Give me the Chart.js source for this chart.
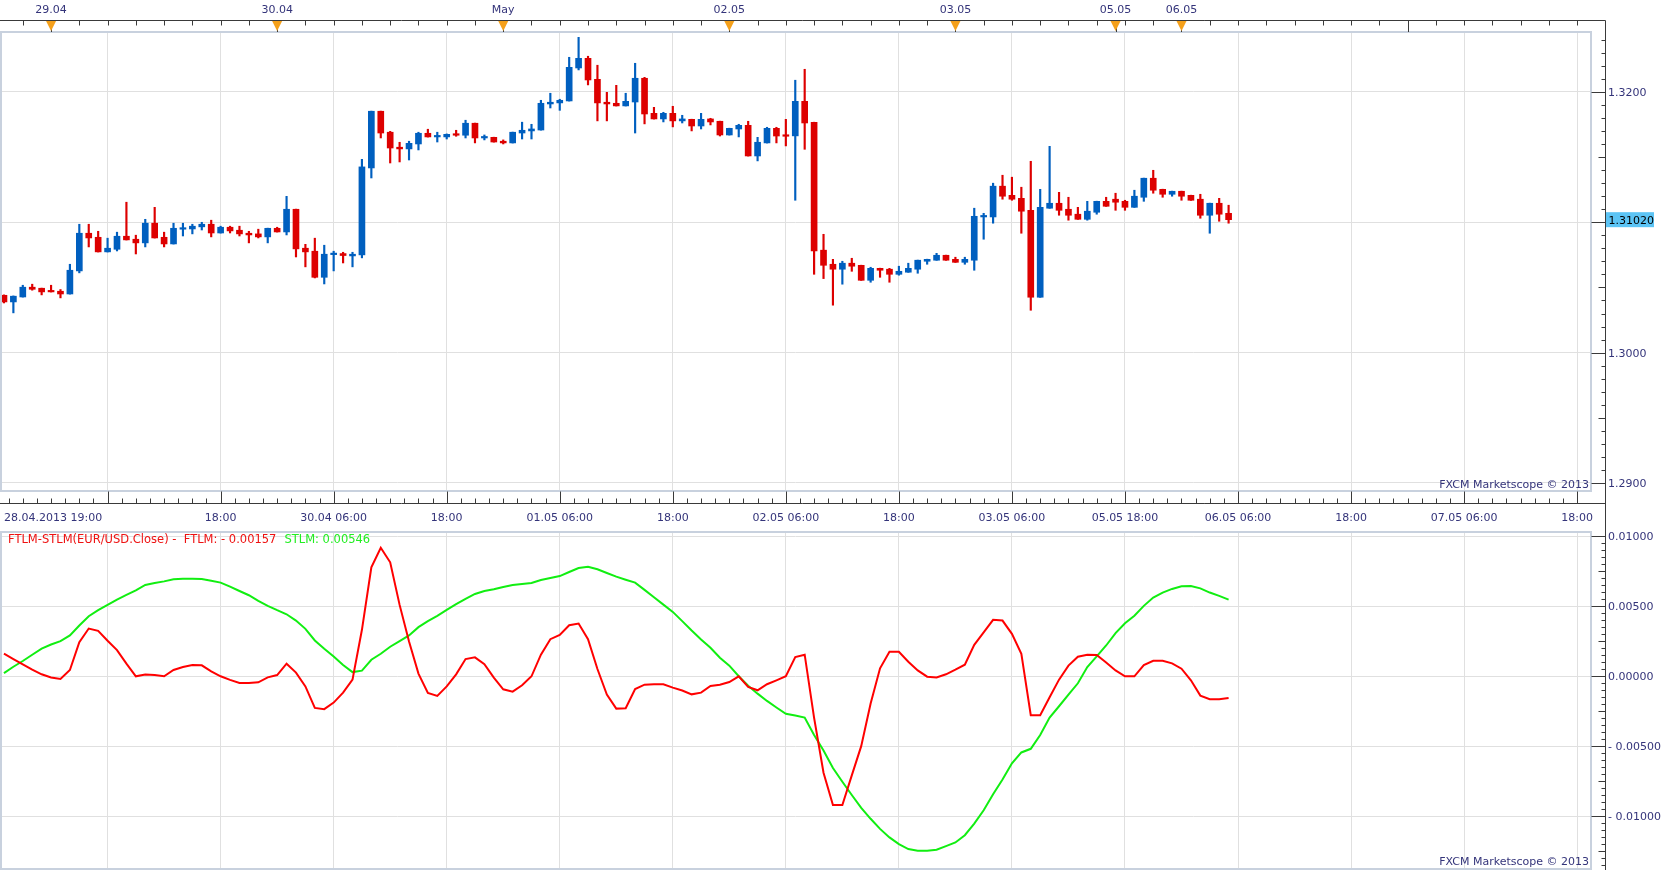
<!DOCTYPE html>
<html>
<head>
<meta charset="utf-8">
<script src="https://cdn.jsdelivr.net/npm/chart.js@4.4.0/dist/chart.umd.min.js"></script>
<style>
  html, body { margin: 0; padding: 0; background: #fff; }
  #wrap { position: relative; width: 1663px; height: 870px; overflow: hidden; }
  canvas { position: absolute; left: 0; }
  #price { top: 0; }
  #osc { top: 530px; }
</style>
</head>
<body>
<div id="wrap">
  <canvas id="price" width="1663" height="530"></canvas>
  <canvas id="osc" width="1663" height="340"></canvas>
</div>
<script>
// EUR/USD hourly candles, 28.04.2013 19:00 .. 06.05.2013 05:00 (weekend removed)
const opens = [
  1.30440, 1.30389, 1.30427, 1.30502, 1.30494, 1.30471, 1.30471, 1.30450, 1.30627, 1.30916,
  1.30885, 1.30773, 1.30793, 1.30893, 1.30870, 1.30842, 1.30993, 1.30885, 1.30834, 1.30947,
  1.30949, 1.30965, 1.30985, 1.30918, 1.30962, 1.30939, 1.30916, 1.30911, 1.30888, 1.30954,
  1.30926, 1.31100, 1.30801, 1.30778, 1.30578, 1.30752, 1.30760, 1.30742, 1.30750, 1.31417,
  1.31852, 1.31691, 1.31576, 1.31563, 1.31601, 1.31683, 1.31655, 1.31655, 1.31675, 1.31668,
  1.31760, 1.31647, 1.31652, 1.31622, 1.31609, 1.31685, 1.31701, 1.31708, 1.31908, 1.31916,
  1.31931, 1.32184, 1.32258, 1.32097, 1.31921, 1.31913, 1.31893, 1.31923, 1.32105, 1.31836,
  1.31793, 1.31836, 1.31778, 1.31790, 1.31739, 1.31793, 1.31775, 1.31670, 1.31716, 1.31744,
  1.31509, 1.31609, 1.31721, 1.31668, 1.31663, 1.31928, 1.31767, 1.30786, 1.30678, 1.30640,
  1.30686, 1.30670, 1.30555, 1.30647, 1.30640, 1.30601, 1.30617, 1.30640, 1.30701, 1.30709,
  1.30747, 1.30716, 1.30693, 1.30709, 1.31041, 1.31041, 1.31277, 1.31207, 1.31184, 1.31092,
  1.30425, 1.31108, 1.31146, 1.31100, 1.31062, 1.31023, 1.31077, 1.31161, 1.31177, 1.31161,
  1.31115, 1.31192, 1.31338, 1.31253, 1.31215, 1.31238, 1.31207, 1.31177, 1.31054, 1.31146,
  1.31069
];
const highs = [
  1.30443, 1.30435, 1.30517, 1.30525, 1.30495, 1.30517, 1.30484, 1.30678, 1.30985, 1.30985,
  1.30931, 1.30878, 1.30924, 1.31154, 1.30901, 1.31023, 1.31115, 1.30924, 1.30993, 1.30993,
  1.30985, 1.31000, 1.31016, 1.30970, 1.30970, 1.30970, 1.30931, 1.30947, 1.30955, 1.30962,
  1.31199, 1.31101, 1.30831, 1.30878, 1.30824, 1.30778, 1.30770, 1.30770, 1.31483, 1.31853,
  1.31853, 1.31698, 1.31614, 1.31622, 1.31691, 1.31714, 1.31691, 1.31678, 1.31706, 1.31783,
  1.31761, 1.31670, 1.31653, 1.31632, 1.31692, 1.31768, 1.31752, 1.31936, 1.31990, 1.31944,
  1.32266, 1.32419, 1.32274, 1.32205, 1.31997, 1.32051, 1.31990, 1.32220, 1.32112, 1.31882,
  1.31844, 1.31890, 1.31821, 1.31791, 1.31836, 1.31798, 1.31776, 1.31722, 1.31752, 1.31775,
  1.31652, 1.31729, 1.31729, 1.31790, 1.32090, 1.32174, 1.31768, 1.30908, 1.30716, 1.30701,
  1.30724, 1.30671, 1.30655, 1.30648, 1.30647, 1.30663, 1.30686, 1.30710, 1.30717, 1.30762,
  1.30748, 1.30732, 1.30732, 1.31108, 1.31069, 1.31300, 1.31361, 1.31346, 1.31269, 1.31468,
  1.31253, 1.31583, 1.31230, 1.31192, 1.31115, 1.31161, 1.31162, 1.31192, 1.31223, 1.31169,
  1.31246, 1.31339, 1.31399, 1.31254, 1.31239, 1.31239, 1.31208, 1.31215, 1.31147, 1.31184,
  1.31131
];
const lows = [
  1.30381, 1.30305, 1.30426, 1.30479, 1.30443, 1.30465, 1.30420, 1.30449, 1.30612, 1.30811,
  1.30772, 1.30772, 1.30780, 1.30864, 1.30757, 1.30811, 1.30879, 1.30811, 1.30833, 1.30895,
  1.30911, 1.30941, 1.30888, 1.30917, 1.30918, 1.30895, 1.30842, 1.30880, 1.30842, 1.30925,
  1.30903, 1.30734, 1.30658, 1.30573, 1.30527, 1.30627, 1.30688, 1.30658, 1.30727, 1.31340,
  1.31647, 1.31455, 1.31463, 1.31478, 1.31555, 1.31654, 1.31616, 1.31639, 1.31660, 1.31647,
  1.31609, 1.31632, 1.31615, 1.31601, 1.31608, 1.31639, 1.31639, 1.31707, 1.31877, 1.31859,
  1.31930, 1.32169, 1.32054, 1.31778, 1.31778, 1.31892, 1.31892, 1.31685, 1.31755, 1.31792,
  1.31770, 1.31732, 1.31762, 1.31701, 1.31716, 1.31747, 1.31662, 1.31669, 1.31655, 1.31508,
  1.31471, 1.31608, 1.31609, 1.31586, 1.31169, 1.31560, 1.30601, 1.30568, 1.30364, 1.30525,
  1.30624, 1.30554, 1.30540, 1.30578, 1.30540, 1.30594, 1.30616, 1.30609, 1.30678, 1.30708,
  1.30708, 1.30692, 1.30678, 1.30632, 1.30870, 1.30993, 1.31177, 1.31169, 1.30916, 1.30325,
  1.30424, 1.31107, 1.31054, 1.31016, 1.31022, 1.31016, 1.31062, 1.31122, 1.31092, 1.31092,
  1.31114, 1.31161, 1.31223, 1.31192, 1.31200, 1.31169, 1.31168, 1.31031, 1.30916, 1.31008,
  1.30993
];
const closes = [
  1.30389, 1.30433, 1.30502, 1.30486, 1.30466, 1.30466, 1.30450, 1.30632, 1.30916, 1.30880,
  1.30773, 1.30801, 1.30893, 1.30865, 1.30842, 1.30993, 1.30880, 1.30834, 1.30954, 1.30954,
  1.30970, 1.30985, 1.30918, 1.30962, 1.30934, 1.30911, 1.30903, 1.30888, 1.30954, 1.30926,
  1.31100, 1.30796, 1.30773, 1.30578, 1.30755, 1.30760, 1.30745, 1.30755, 1.31425, 1.31852,
  1.31685, 1.31570, 1.31563, 1.31606, 1.31683, 1.31655, 1.31662, 1.31675, 1.31668, 1.31760,
  1.31647, 1.31655, 1.31616, 1.31609, 1.31691, 1.31706, 1.31716, 1.31913, 1.31921, 1.31936,
  1.32189, 1.32258, 1.32092, 1.31916, 1.31908, 1.31893, 1.31928, 1.32105, 1.31831, 1.31793,
  1.31836, 1.31778, 1.31793, 1.31739, 1.31790, 1.31770, 1.31670, 1.31721, 1.31744, 1.31509,
  1.31614, 1.31721, 1.31662, 1.31660, 1.31928, 1.31762, 1.30780, 1.30670, 1.30640, 1.30686,
  1.30663, 1.30555, 1.30647, 1.30632, 1.30601, 1.30624, 1.30647, 1.30709, 1.30716, 1.30747,
  1.30709, 1.30693, 1.30716, 1.31046, 1.31049, 1.31277, 1.31200, 1.31177, 1.31085, 1.30425,
  1.31115, 1.31146, 1.31092, 1.31054, 1.31023, 1.31085, 1.31161, 1.31123, 1.31154, 1.31115,
  1.31200, 1.31338, 1.31246, 1.31215, 1.31238, 1.31200, 1.31169, 1.31054, 1.31146, 1.31062,
  1.31020
];

// FTLM / STLM oscillator, one value per candle
const ftlm = [
  0.00159, 0.00121, 0.00083, 0.00045, 0.00012, -0.00010, -0.00021, 0.00043, 0.00242, 0.00339,
  0.00323, 0.00252, 0.00185, 0.00088, -0.00002, 0.00010, 0.00007, -0.00002, 0.00043, 0.00064,
  0.00078, 0.00076, 0.00033, -0.00002, -0.00028, -0.00050, -0.00050, -0.00045, -0.00010, 0.00007,
  0.00088, 0.00024, -0.00074, -0.00228, -0.00237, -0.00190, -0.00119, -0.00026, 0.00330, 0.00776,
  0.00916, 0.00812, 0.00508, 0.00247, 0.00017, -0.00121, -0.00142, -0.00074, 0.00012, 0.00121,
  0.00133, 0.00085, -0.00012, -0.00095, -0.00112, -0.00066, -0.00002, 0.00152, 0.00263, 0.00294,
  0.00363, 0.00375, 0.00263, 0.00050, -0.00133, -0.00233, -0.00230, -0.00093, -0.00062, -0.00059,
  -0.00059, -0.00083, -0.00104, -0.00131, -0.00119, -0.00071, -0.00062, -0.00043, -0.00002, -0.00078,
  -0.00102, -0.00059, -0.00031, -0.00002, 0.00135, 0.00152, -0.00299, -0.00691, -0.00921, -0.00921,
  -0.00710, -0.00501, -0.00197, 0.00055, 0.00173, 0.00173, 0.00102, 0.00040, -0.00005, -0.00010,
  0.00012, 0.00045, 0.00081, 0.00223, 0.00311, 0.00401, 0.00396, 0.00301, 0.00159, -0.00280,
  -0.00280, -0.00152, -0.00026, 0.00074, 0.00138, 0.00152, 0.00150, 0.00097, 0.00040, -0.00002,
  -0.00002, 0.00078, 0.00109, 0.00109, 0.00090, 0.00052, -0.00031, -0.00140, -0.00166, -0.00166,
  -0.00157
];
const stlm = [
  0.00021, 0.00066, 0.00107, 0.00152, 0.00195, 0.00225, 0.00249, 0.00290, 0.00361, 0.00427,
  0.00470, 0.00508, 0.00546, 0.00579, 0.00612, 0.00650, 0.00664, 0.00676, 0.00691, 0.00695,
  0.00695, 0.00693, 0.00681, 0.00667, 0.00638, 0.00607, 0.00577, 0.00536, 0.00501, 0.00470,
  0.00441, 0.00396, 0.00337, 0.00254, 0.00195, 0.00140, 0.00078, 0.00028, 0.00038, 0.00116,
  0.00159, 0.00209, 0.00249, 0.00290, 0.00349, 0.00392, 0.00430, 0.00472, 0.00513, 0.00551,
  0.00586, 0.00607, 0.00619, 0.00636, 0.00650, 0.00657, 0.00664, 0.00686, 0.00700, 0.00714,
  0.00743, 0.00771, 0.00781, 0.00762, 0.00736, 0.00710, 0.00688, 0.00667, 0.00615, 0.00562,
  0.00510, 0.00458, 0.00392, 0.00325, 0.00261, 0.00202, 0.00130, 0.00074, -0.00002, -0.00069,
  -0.00126, -0.00178, -0.00225, -0.00270, -0.00282, -0.00297, -0.00422, -0.00532, -0.00657, -0.00755,
  -0.00850, -0.00942, -0.01020, -0.01092, -0.01153, -0.01201, -0.01236, -0.01248, -0.01248, -0.01241,
  -0.01215, -0.01189, -0.01137, -0.01054, -0.00959, -0.00845, -0.00740, -0.00624, -0.00546, -0.00520,
  -0.00422, -0.00297, -0.00216, -0.00133, -0.00052, 0.00064, 0.00140, 0.00218, 0.00306, 0.00377,
  0.00430, 0.00501, 0.00560, 0.00596, 0.00622, 0.00641, 0.00643, 0.00626, 0.00596, 0.00572,
  0.00546
];

// axis labels (candle index -> text)
const timeTickIdx  = [0, 23, 35, 47, 59, 71, 83, 95, 107, 119, 131, 143, 155, 167];
const timeTickText = ['28.04.2013 19:00', '18:00', '30.04 06:00', '18:00', '01.05 06:00', '18:00',
  '02.05 06:00', '18:00', '03.05 06:00', '05.05 18:00', '06.05 06:00', '18:00', '07.05 06:00', '18:00'];
const gridIdx = [11, 23, 35, 47, 59, 71, 83, 95, 107, 119, 131, 143, 155, 167];
const dayTickIdx  = [5, 29, 53, 77, 101, 118, 125];
const dayTickText = ['29.04', '30.04', 'May', '02.05', '03.05', '05.05', '06.05'];
const priceTicks = [1.29, 1.30, 1.31, 1.32];
const oscTicks = [-0.01, -0.005, 0, 0.005, 0.01];
const lastPrice = 1.31020;

const X_MIN = -0.42, X_MAX = 168.47;
const BLUE = '#005fbf', RED = '#dd0000';
const GRID = '#e0e0e0', PANE = '#c8d1de', AXIS = '#3a3a3a', TEXT = '#34347a';

Chart.defaults.font.family = '"DejaVu Sans", Verdana, sans-serif';
Chart.defaults.font.size = 11;
Chart.defaults.color = TEXT;

const candleColor = ctx => closes[ctx.dataIndex] >= opens[ctx.dataIndex] ? BLUE : RED;
const fmtOsc = v => v < 0 ? '- ' + (-v).toFixed(5) : v.toFixed(5);
const noPad = s => { s.paddingLeft = 0; s.paddingRight = 0; s.paddingTop = 0; s.paddingBottom = 0; };

// right axis line, minor ticks and frame, shared by both panes
function drawRightAxis(ctx, chart, yScale, kFrom, kTo, step, top) {
  const a = chart.chartArea;
  const axisX = a.right + 14.5;
  ctx.strokeStyle = PANE;
  ctx.lineWidth = 2;
  ctx.strokeRect(a.left + 1, a.top, a.right - a.left - 1, a.bottom - a.top + 1);
  ctx.strokeStyle = AXIS;
  ctx.lineWidth = 1;
  ctx.beginPath();
  ctx.moveTo(axisX, top);
  ctx.lineTo(axisX, chart.height);
  for (let k = kFrom; k <= kTo; k++) {
    const py = yScale.getPixelForValue(k * step);
    if (py < a.top || py > a.bottom) continue;
    const len = k % 10 === 0 ? 14 : (k % 5 === 0 ? 7 : 4);
    const yy = Math.round(py) + 0.5;
    ctx.moveTo(axisX - len, yy);
    ctx.lineTo(axisX, yy);
  }
  ctx.stroke();
  return axisX;
}

const priceFrame = {
  id: 'priceFrame',
  afterDraw(chart) {
    const { ctx, chartArea: a } = chart;
    const xs = chart.scales.x, ys = chart.scales.y;
    const topY = a.top - 11.5;
    const botY = a.bottom + 13.5;
    ctx.save();
    const axisX = drawRightAxis(ctx, chart, ys, 1289, 1325, 0.001, topY);

    ctx.beginPath();
    ctx.moveTo(0, topY); ctx.lineTo(axisX, topY);
    ctx.moveTo(0, botY); ctx.lineTo(axisX, botY);
    // date axis ticks, every 3 hours
    for (let k = -4; k < 60; k++) {
      const v = 11 + 3 * k;
      if (v < xs.min || v > xs.max) continue;
      const px = Math.round(xs.getPixelForValue(v)) + 0.5;
      ctx.moveTo(px, topY); ctx.lineTo(px, topY + 5);
    }
    const nextDay = Math.round(xs.getPixelForValue(149)) + 0.5;
    ctx.moveTo(nextDay, topY); ctx.lineTo(nextDay, a.top);
    // time axis ticks, every 1.5 hours
    for (let k = -8; k < 110; k++) {
      const v = 11 + 1.5 * k;
      if (v < xs.min || v > xs.max) continue;
      const px = Math.round(xs.getPixelForValue(v)) + 0.5;
      const len = k % 8 === 0 ? 12 : 5;
      ctx.moveTo(px, botY - len); ctx.lineTo(px, botY);
    }
    ctx.stroke();

    // day change markers
    dayTickIdx.forEach(v => {
      const px = xs.getPixelForValue(v);
      ctx.strokeStyle = AXIS;
      ctx.beginPath();
      ctx.moveTo(Math.round(px) + 0.5, topY); ctx.lineTo(Math.round(px) + 0.5, a.top);
      ctx.stroke();
      ctx.fillStyle = '#f5a01a';
      ctx.beginPath();
      ctx.moveTo(px - 5, topY + 0.5); ctx.lineTo(px + 5, topY + 0.5); ctx.lineTo(px, topY + 10.5);
      ctx.closePath();
      ctx.fill();
    });

    // current price box
    const py = ys.getPixelForValue(lastPrice);
    ctx.fillStyle = '#5cc4f5';
    ctx.fillRect(axisX + 0.5, py - 7.5, 48, 15);
    ctx.font = '11px "DejaVu Sans"';
    ctx.fillStyle = '#000';
    ctx.textAlign = 'left';
    ctx.textBaseline = 'middle';
    ctx.fillText(lastPrice.toFixed(5), axisX + 3, py + 1);

    ctx.fillStyle = TEXT;
    ctx.textAlign = 'right';
    ctx.fillText('FXCM Marketscope \u00a9 2013', a.right - 2, a.bottom - 5);
    ctx.restore();
  }
};

const oscFrame = {
  id: 'oscFrame',
  afterDraw(chart) {
    const { ctx, chartArea: a } = chart;
    ctx.save();
    drawRightAxis(ctx, chart, chart.scales.y, -28, 21, 0.0005, 0);
    ctx.font = '11.5px "DejaVu Sans"';
    ctx.textBaseline = 'middle';
    ctx.textAlign = 'left';
    const last = ftlm.length - 1;
    const t1 = 'FTLM-STLM(EUR/USD.Close) -  FTLM: ' + fmtOsc(ftlm[last]);
    ctx.fillStyle = '#ee1111';
    ctx.fillText(t1, 8, a.top + 8);
    ctx.fillStyle = '#22ee22';
    ctx.fillText('STLM: ' + fmtOsc(stlm[last]), 8 + ctx.measureText(t1).width + 8, a.top + 8);
    ctx.font = '11px "DejaVu Sans"';
    ctx.fillStyle = TEXT;
    ctx.textAlign = 'right';
    ctx.fillText('FXCM Marketscope \u00a9 2013', a.right - 2, a.bottom - 6);
    ctx.restore();
  }
};

const gridColor = ctx => (ctx.tick && gridIdx.includes(ctx.tick.value)) ? GRID : 'rgba(0,0,0,0)';

const priceChart = new Chart(document.getElementById('price'), {
  type: 'bar',
  data: {
    datasets: [
      {
        label: 'body',
        xAxisID: 'x',
        data: opens.map((o, i) => ({ x: i, y: [o, closes[i]] })),
        backgroundColor: candleColor,
        barThickness: 6,
        minBarLength: 1.5,
        grouped: false
      },
      {
        label: 'wick',
        xAxisID: 'x',
        data: lows.map((l, i) => ({ x: i, y: [l, highs[i]] })),
        backgroundColor: candleColor,
        barThickness: 1.5,
        grouped: false
      }
    ]
  },
  options: {
    responsive: false,
    devicePixelRatio: 1,
    animation: false,
    layout: { padding: 0 },
    plugins: { legend: { display: false }, tooltip: { enabled: false } },
    scales: {
      x: {
        type: 'linear', position: 'bottom', min: X_MIN, max: X_MAX, offset: false,
        afterBuildTicks: s => { s.ticks = [0, 11].concat(gridIdx.slice(1), [X_MAX]).map(v => ({ value: v })); },
        afterFit: s => { s.height = 40; noPad(s); },
        grid: { color: gridColor, offset: false, drawTicks: false },
        border: { display: false },
        ticks: {
          autoSkip: false, maxRotation: 0, minRotation: 0, align: 'inner', padding: 22, color: TEXT,
          callback: v => { const k = timeTickIdx.indexOf(v); return k < 0 ? '' : timeTickText[k]; }
        }
      },
      xTop: {
        type: 'linear', position: 'top', min: X_MIN, max: X_MAX, offset: false,
        afterBuildTicks: s => { s.ticks = dayTickIdx.map(v => ({ value: v })); },
        afterFit: s => { s.height = 32; noPad(s); },
        grid: { display: false, offset: false, drawTicks: false },
        border: { display: false },
        ticks: {
          autoSkip: false, maxRotation: 0, minRotation: 0, padding: 15, color: TEXT,
          callback: v => dayTickText[dayTickIdx.indexOf(v)]
        }
      },
      y: {
        type: 'linear', position: 'right', min: 1.28946, max: 1.32460,
        afterBuildTicks: s => { s.ticks = priceTicks.map(v => ({ value: v })); },
        afterFit: s => { s.width = 72; noPad(s); },
        grid: { color: GRID, drawTicks: false },
        border: { display: false },
        ticks: { padding: 17, labelOffset: 1.5, color: TEXT, callback: v => v === 1.31 ? '' : v.toFixed(4) }
      }
    }
  },
  plugins: [priceFrame]
});

const oscChart = new Chart(document.getElementById('osc'), {
  type: 'line',
  data: {
    datasets: [
      {
        label: 'FTLM',
        data: ftlm.map((v, i) => ({ x: i, y: v })),
        borderColor: '#ff0000', borderWidth: 2, pointRadius: 0, tension: 0, fill: false
      },
      {
        label: 'STLM',
        data: stlm.map((v, i) => ({ x: i, y: v })),
        borderColor: '#11ee11', borderWidth: 2, pointRadius: 0, tension: 0, fill: false
      }
    ]
  },
  options: {
    responsive: false,
    devicePixelRatio: 1,
    animation: false,
    layout: { padding: { top: 2 } },
    plugins: { legend: { display: false }, tooltip: { enabled: false } },
    scales: {
      x: {
        type: 'linear', position: 'bottom', min: X_MIN, max: X_MAX, offset: false,
        afterBuildTicks: s => { s.ticks = gridIdx.map(v => ({ value: v })); },
        afterFit: s => { s.height = 2; noPad(s); },
        grid: { color: GRID, drawTicks: false },
        border: { display: false },
        ticks: { display: false }
      },
      y: {
        type: 'linear', position: 'right', min: -0.013714, max: 0.010286,
        afterBuildTicks: s => { s.ticks = oscTicks.map(v => ({ value: v })); },
        afterFit: s => { s.width = 72; noPad(s); },
        grid: { color: GRID, drawTicks: false },
        border: { display: false },
        ticks: { padding: 17, labelOffset: 1.5, color: TEXT, callback: v => v === 0 ? '0.00000' : fmtOsc(v) }
      }
    }
  },
  plugins: [oscFrame]
});
</script>
</body>
</html>
